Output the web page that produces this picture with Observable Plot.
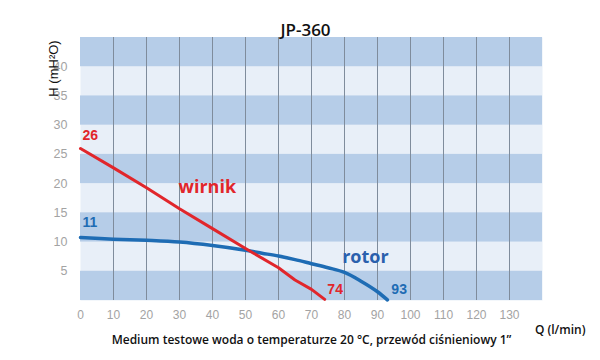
<!DOCTYPE html>
<html>
<head>
<meta charset="utf-8">
<script src="https://cdn.jsdelivr.net/npm/d3@7"></script>
<script src="https://cdn.jsdelivr.net/npm/@observablehq/plot@0.6"></script>
<style>
  html, body { margin: 0; padding: 0; background: #ffffff; }
  #chart { width: 600px; height: 360px; }
</style>
</head>
<body>
<div id="chart"></div>
<script>
// ---- data ----
const titleText = "JP-360";
const captionText = "Medium testowe woda o temperaturze 20 °C, przewód ciśnieniowy 1”";
const xLabelText = "Q (l/min)";
const yLabelText = "H (mH²O)";

const xTicks = [0, 10, 20, 30, 40, 50, 60, 70, 80, 90, 100, 110, 120, 130];
const yTicks = [5, 10, 15, 20, 25, 30, 35, 40];
const gridX = [10, 20, 30, 40, 50, 60, 70, 80, 90, 100, 110, 120, 130];
const darkBandsLow = [0, 10, 20, 30, 40];

const wirnikQ = [0, 10, 20, 30, 40, 50, 60, 65, 70, 74];
const wirnikH = [26, 22.7, 19.3, 15.7, 12.3, 8.9, 5.6, 3.5, 1.9, 0.2];

const rotorQ = [0, 10, 20, 30, 40, 50, 55, 60, 65, 70, 75, 80, 85, 90, 93];
const rotorH = [10.8, 10.5, 10.3, 10.0, 9.4, 8.6, 8.1, 7.6, 7.0, 6.3, 5.6, 4.8, 3.3, 1.5, 0.1];

const curveNames = ["wirnik", "rotor"];
const curveNameQ = [29.7, 79.3];
const curveNameH = [19.3, 7.4];

const valueLabels = ["26", "11", "74", "93"];
const valueLabelQ = [0.6, 0.6, 74.8, 94.2];
const valueLabelH = [28.2, 13.3, 1.9, 1.9];
const valueLabelSeries = ["wirnik", "rotor", "wirnik", "rotor"];

// ---- build tables ----
const RED = "#e1262b";
const BLUE = "#1e6cb4";
const BLUE_TEXT = "#2a60ad";
const colorOf = s => s === "wirnik" ? RED : BLUE;

const wirnik = wirnikQ.map((q, i) => ({q, h: wirnikH[i]}));
const rotor = rotorQ.map((q, i) => ({q, h: rotorH[i]}));
const names = curveNames.map((n, i) => ({n, q: curveNameQ[i], h: curveNameH[i]}));
const values = valueLabels.map((t, i) => ({t, q: valueLabelQ[i], h: valueLabelH[i], s: valueLabelSeries[i]}));
const bands = darkBandsLow.map(lo => ({lo, hi: lo + 5}));

const chart = Plot.plot({
  width: 600,
  height: 360,
  marginLeft: 80,
  marginRight: 58,
  marginTop: 37,
  marginBottom: 60,
  style: {fontFamily: "'Liberation Sans', Arial, sans-serif", background: "#ffffff", overflow: "visible"},
  x: {domain: [0, 140]},
  y: {domain: [0, 45]},
  marks: [
    Plot.frame({fill: "#e8eff8", stroke: "none"}),
    Plot.rect(bands, {x1: () => 0, x2: () => 140, y1: "lo", y2: "hi", fill: "#b6cde8"}),
    Plot.ruleX(gridX, {stroke: "#7f8c9c", strokeWidth: 1}),
    Plot.axisX({ticks: xTicks, tickSize: 0, tickPadding: 10, fontSize: 12, color: "#a3a3a3", label: null}),
    Plot.axisY({ticks: yTicks, tickSize: 0, tickPadding: 13, fontSize: 12.5, color: "#a3a3a3", label: null}),
    Plot.line(rotor, {x: "q", y: "h", stroke: BLUE, strokeWidth: 3.5, curve: "catmull-rom"}),
    Plot.line(wirnik, {x: "q", y: "h", stroke: RED, strokeWidth: 3, curve: "linear"}),
    Plot.text(names, {x: "q", y: "h", text: "n", textAnchor: "start", fontSize: 18, fontWeight: 700,
      fontFamily: "'Open Sans', sans-serif", fill: d => d.n === "wirnik" ? RED : BLUE_TEXT}),
    Plot.text(values, {x: "q", y: "h", text: "t", textAnchor: "start", fontSize: 14, fontWeight: 700,
      fill: d => colorOf(d.s)}),
    Plot.text([titleText], {frameAnchor: "top", dx: -6, dy: -14, fontSize: 17, fontWeight: 600,
      fontFamily: "'Open Sans', sans-serif", fill: "#111"}),
    Plot.text([captionText], {frameAnchor: "bottom", dy: 43, fontSize: 12, fontWeight: 600,
      fontFamily: "'Open Sans', sans-serif", fill: "#111"}),
    Plot.text([xLabelText], {frameAnchor: "bottom-right", dx: 43, dy: 33, textAnchor: "end", fontSize: 12, fontWeight: 600,
      fontFamily: "'Open Sans', sans-serif", fill: "#111"}),
    Plot.text([yLabelText], {frameAnchor: "top-left", dx: -32, dy: 31, rotate: -90, textAnchor: "middle", fontSize: 13,
      fill: "#111"})
  ]
});
document.getElementById("chart").appendChild(chart);
</script>
</body>
</html>
